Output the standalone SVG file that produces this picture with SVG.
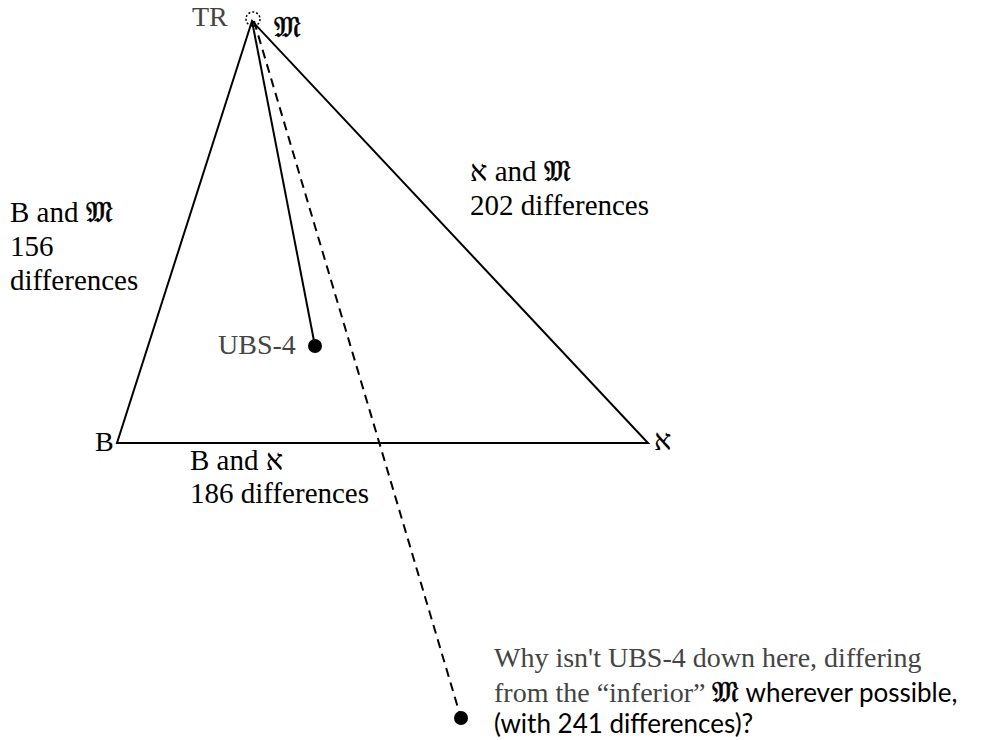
<svg xmlns="http://www.w3.org/2000/svg" width="998" height="740" viewBox="0 0 998 740">
<style>
.ln{stroke:#000;stroke-width:2;fill:none}
.sf{font-family:"Liberation Serif","DejaVu Serif",serif;font-size:28px}
.lb{font-size:29px}
.fm{font-family:"DejaVu Sans","DejaVu Serif",serif;font-size:29px;stroke:#000;stroke-width:0.6}
.he{font-size:29px}
.ss{font-family:Lato,"Open Sans",sans-serif;font-size:26px;fill:#000}
</style>
<rect width="998" height="740" fill="#fff"/>
<g id="connectors">
<path class="ln" d="M252 21 L117 443 L648 443 Z"/>
<line class="ln" x1="252" y1="21" x2="315" y2="346"/>
<line class="ln" x1="254" y1="21" x2="461" y2="718" stroke-dasharray="9,6"/>
</g>
<g id="TR">
<circle cx="253" cy="19" r="7" fill="none" stroke="#000" stroke-width="1.5" stroke-dasharray="2,2"/>
<text class="sf" fill="#444" x="192" y="26">TR</text>
<text class="sf" x="274" y="37"><tspan class="fm">𝔐</tspan></text>
</g>
<g id="B"><text class="sf" x="95" y="451">B</text></g>
<g id="Aleph"><text class="sf" x="654" y="450"><tspan class="he">א</tspan></text></g>
<g id="UBS4">
<circle cx="315" cy="346" r="7" fill="#000"/>
<text class="sf" fill="#444" x="218" y="354">UBS-4</text>
</g>
<g id="Hypo">
<circle cx="461" cy="718" r="7" fill="#000"/>
<text class="sf" fill="#444" x="494" y="667">Why isn't UBS-4 down here, differing</text>
<text class="sf" x="494" y="702"><tspan fill="#444">from the “inferior” </tspan><tspan class="fm">𝔐</tspan><tspan class="ss"> wherever possible,</tspan></text>
<text class="ss" x="494" y="733">(with 241 differences)?</text>
</g>
<g id="edge-BM">
<text class="sf lb" x="10" y="222">B and <tspan class="fm">𝔐</tspan></text>
<text class="sf lb" x="10" y="256">156</text>
<text class="sf lb" x="10" y="290">differences</text>
</g>
<g id="edge-AM">
<text class="sf lb" x="470" y="181"><tspan class="he">א</tspan> and <tspan class="fm">𝔐</tspan></text>
<text class="sf lb" x="470" y="215">202 differences</text>
</g>
<g id="edge-BA">
<text class="sf lb" x="190" y="470">B and <tspan class="he">א</tspan></text>
<text class="sf lb" x="190" y="503">186 differences</text>
</g>
</svg>
